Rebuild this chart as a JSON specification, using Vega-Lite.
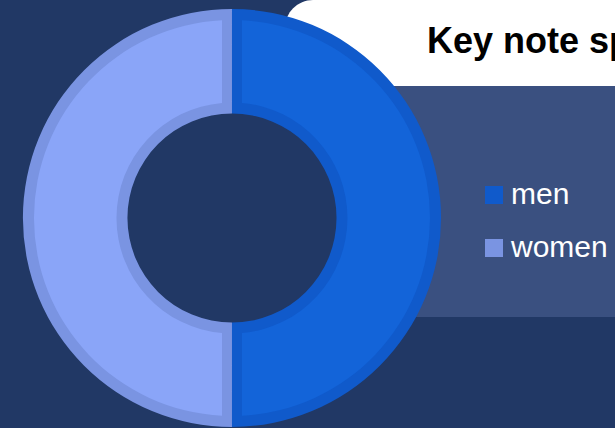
{
  "$schema": "https://vega.github.io/schema/vega-lite/v6.json",
  "width": 615,
  "height": 428,
  "autosize": {"type": "none"},
  "padding": 0,
  "background": "#213865",
  "config": {"view": {"stroke": null}, "font": "Liberation Sans"},
  "datasets": {
    "gender": [
      {"group": "men", "share": 50},
      {"group": "women", "share": 50}
    ],
    "one": [{"label": "Key note speakers"}]
  },
  "layer": [
    {
      "data": {"name": "one"},
      "mark": {"type": "rect", "color": "#3a5080"},
      "encoding": {
        "x": {"datum": 0.6, "type": "quantitative", "scale": {"domain": [0, 1]}, "axis": null},
        "x2": {"datum": 1.1},
        "y": {"datum": 0.2009, "type": "quantitative", "scale": {"domain": [0, 1], "reverse": true}, "axis": null},
        "y2": {"datum": 0.7407}
      }
    },
    {
      "data": {"name": "one"},
      "mark": {"type": "rect", "color": "#ffffff", "cornerRadiusTopLeft": 28},
      "encoding": {
        "x": {"datum": 0.4634, "type": "quantitative"},
        "x2": {"datum": 1.1},
        "y": {"datum": 0, "type": "quantitative"},
        "y2": {"datum": 0.2009}
      }
    },
    {
      "data": {"name": "one"},
      "mark": {"type": "text", "align": "left", "baseline": "alphabetic", "fontSize": 36, "fontWeight": "bold", "color": "#000000", "font": "Liberation Sans"},
      "encoding": {
        "x": {"datum": 0.6943, "type": "quantitative"},
        "y": {"datum": 0.1238, "type": "quantitative"},
        "text": {"field": "label"}
      }
    },
    {
      "data": {"name": "gender"},
      "mark": {"type": "arc", "radius": 209, "radius2": 104.5},
      "encoding": {
        "theta": {"field": "share", "type": "quantitative", "stack": true},
        "color": {
          "field": "group",
          "type": "nominal",
          "scale": {"domain": ["men", "women"], "range": ["#105acb", "#7a94e2"]},
          "legend": {
            "orient": "none",
            "legendX": 479,
            "legendY": 180,
            "title": null,
            "symbolType": "square",
            "symbolSize": 324,
            "symbolStrokeWidth": 0,
            "labelFontSize": 30,
            "labelColor": "#ffffff",
            "labelFont": "Liberation Sans",
            "rowPadding": 23,
            "labelOffset": 2
          }
        },
        "x": {"datum": 0.3772, "type": "quantitative"},
        "y": {"datum": 0.5093, "type": "quantitative"}
      }
    },
    {
      "data": {"name": "gender"},
      "mark": {"type": "arc", "radius": 198, "radius2": 115.5, "padAngle": 0.087},
      "encoding": {
        "theta": {"field": "share", "type": "quantitative", "stack": true},
        "color": {
          "field": "group",
          "type": "nominal",
          "scale": {"domain": ["men", "women"], "range": ["#1364d9", "#8aa5f8"]},
          "legend": null
        },
        "x": {"datum": 0.3772, "type": "quantitative"},
        "y": {"datum": 0.5093, "type": "quantitative"}
      }
    }
  ],
  "resolve": {"scale": {"color": "independent"}}
}
